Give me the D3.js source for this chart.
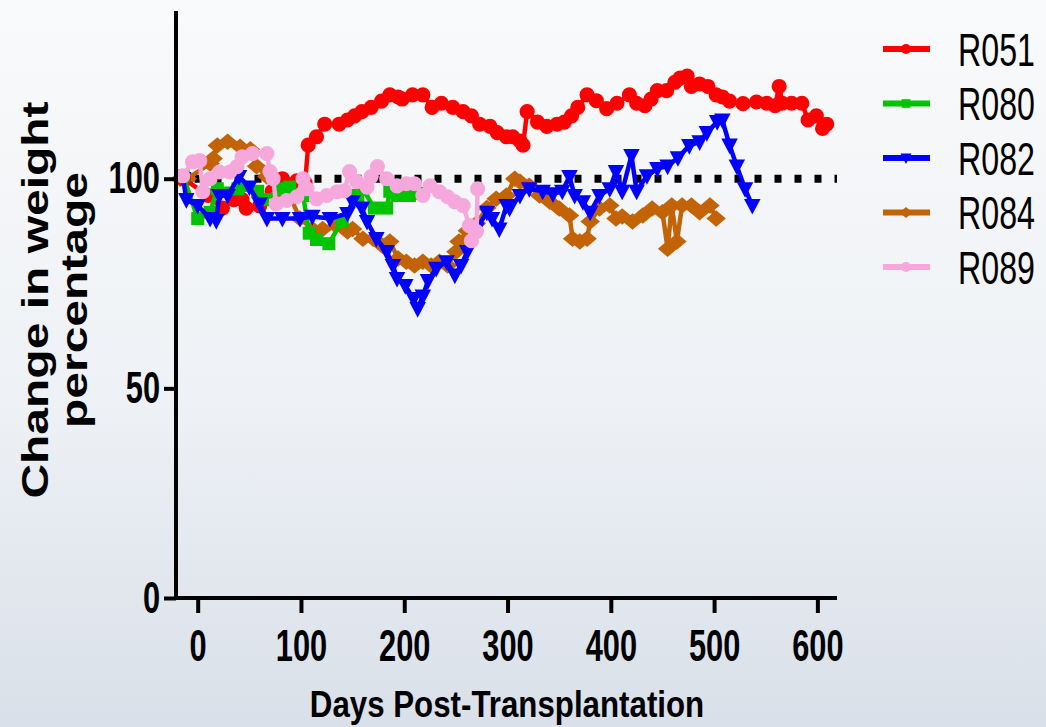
<!DOCTYPE html>
<html>
<head>
<meta charset="utf-8">
<script src="https://cdn.jsdelivr.net/npm/d3@7"></script>
<style>
  body { margin: 0; padding: 0; overflow: hidden; }
  text { font-family: "Liberation Sans", Arial, sans-serif; }
</style>
</head>
<body>
<div id="chart"></div>
<script>
// series: [day, % of starting weight]
var r051 = [[-14,100],[10,96],[24,93],[35,95],[43,95],[47,93],[60,93.5],[72,97],[82,100],[96,99.5],[104,99],
  [107,108],[115,110],[123,113],[137,113],[145,114],[152,115],[159,116],[168,117],[178,118.5],[186,120],[194,119.5],
  [198,119],[208,120],[218,120],[227,117],[236,118],[247,117],[257,116],[265,115],[273,113],[283,112.5],[290,111],
  [299,110],[305,110],[312,109],[315,108],[319,116],[329,113.5],[338,112.5],[348,113],[355,113.5],[362,115],[368,117],
  [377,120],[386,118.6],[396,116.7],[406,118],[418,120],[425,118],[433,117.4],[439,119],[445,121],[454,121],[462,123],
  [467,124],[474,124.5],[478,122],[486,122.6],[494,122],[502,120],[508,119.5],[515,118.5],[528,117.9],[541,118.3],
  [551,118],[559,117.4],[563,122],[566,118],[575,118],[585,118],[591,114],[599,115],[605,112],[609,113]];

var r080 = [[-14,100.7],[0,90.5],[12,92],[19,97.6],[39,97.6],[58,97],[63,95],[82,97.6],[89,98],[102,96],[108,87],
  [115,85.5],[127,84.5],[140,90],[155,96],[160,97.5],[171,93],[183,93],[186,97],[193,96],[205,96],[212,96.5]];

var r082 = [[-14,100],[-11,95],[0,93.6],[12,90.5],[18,90],[21,96],[29,96],[40,100.5],[50,98],[60,94],[67,90.5],
  [82,90.5],[99,90.5],[111,91],[128,90.5],[145,91.7],[150,94.5],[159,93],[164,89.8],[173,85.7],[183,82.6],[189,79.3],
  [193,76.2],[201,74.5],[209,71.4],[213,69],[218,72],[223,75.7],[231,78.6],[241,80.2],[249,77],[255,79.3],[261,82.6],
  [270,88],[280,92],[285,90.5],[292,88],[299,93.6],[302,93],[312,96],[321,97.6],[334,97],[344,96.4],[353,97],
  [360,100.5],[365,96],[373,94.5],[380,92],[389,96],[399,97.6],[405,101.7],[411,97],[420,105.5],[425,97],
  [435,100.7],[445,102.4],[455,103],[465,105],[476,107.9],[486,108.8],[493,111],[503,113.6],[508,114],[515,108],
  [522,103],[530,97.6],[537,93.6]];

var r084 = [[-17,100],[-10,100],[12,103.6],[15,104.8],[19,107.9],[29,108.8],[41,107.6],[51,107],[57,103],[67,100.5],
  [80,97],[89,96],[99,90.5],[111,88],[121,88],[134,88.8],[145,87.4],[150,88],[160,85.7],[170,85.7],[179,84],[186,85],
  [194,81],[202,80.2],[210,79.3],[218,80.2],[226,79.3],[234,80.2],[242,79.3],[250,82.6],[253,85],[261,87.6],[270,89.3],
  [280,93],[289,95.2],[299,96],[307,100],[312,99.3],[321,98.3],[331,96],[341,94.5],[350,92.9],[360,91.2],[363,85.7],
  [370,85],[377,85.7],[380,89.8],[389,92.9],[399,93.6],[405,90.5],[411,91],[421,89.8],[431,91.2],[440,92.9],[450,92],
  [455,83.3],[459,93.6],[464,85],[469,93.6],[478,93.6],[486,92],[496,93.6],[502,90.5]];

var r089 = [[-14.5,100.7],[-5,104],[2,104.3],[5,96.9],[12,100],[21,101.6],[31,101.6],[38,102.9],[43,105.2],[53,106],
  [67,106],[70,101.7],[73,100],[76,94],[86,94.8],[96,95.7],[102,100],[106,97.6],[115,95.2],[125,96],[135,96.9],
  [142,97.1],[147,101.7],[154,99.3],[164,98],[168,100.5],[174,102.9],[183,100],[193,98.3],[202,98.8],[210,98.8],
  [218,96],[225,98.3],[234,96.9],[242,95.7],[249,94.5],[257,93.6],[263,88.8],[265,85.2],[270,87.4],[271,97.6]];

var seriesNames = ['R051', 'R080', 'R082', 'R084', 'R089'];
var seriesData = [r051, r080, r082, r084, r089];
var seriesColors = ['#ff0000', '#00c400', '#0000ff', '#c26306', '#f6a8dd'];
var seriesShapes = ['circle', 'square', 'triangleDown', 'diamond', 'circle'];
var drawOrder = [3, 0, 1, 2, 4];

var xTicks = [0, 100, 200, 300, 400, 500, 600];
var yTicks = [0, 50, 100];
var baseline = 100;

var width = 1046, height = 727;

var x = d3.scaleLinear().domain([-21, 619]).range([176, 837]);
var y = d3.scaleLinear().domain([0, 140]).range([598, 11]);

var svg = d3.select('#chart').append('svg')
  .attr('width', width)
  .attr('height', height);

var grad = svg.append('defs').append('linearGradient')
  .attr('id', 'bg')
  .attr('x1', 0).attr('y1', 0).attr('x2', 0).attr('y2', 1);
grad.append('stop').attr('offset', '0%').attr('stop-color', '#f9fafb');
grad.append('stop').attr('offset', '55%').attr('stop-color', '#eef1f5');
grad.append('stop').attr('offset', '100%').attr('stop-color', '#d9e0e9');

svg.append('rect')
  .attr('width', width)
  .attr('height', height)
  .attr('fill', 'url(#bg)');

// dotted 100% line
svg.append('line')
  .attr('x1', x(-21)).attr('x2', x(619))
  .attr('y1', y(baseline)).attr('y2', y(baseline))
  .attr('stroke', '#000')
  .attr('stroke-width', 8)
  .attr('stroke-dasharray', '7 13')
  .attr('stroke-dashoffset', 1.5);

function markerPath(shape, s) {
  if (shape === 'circle') return d3.symbol(d3.symbolCircle, s * s * 0.8)();
  if (shape === 'square') return d3.symbol(d3.symbolSquare, s * s * 0.75)();
  if (shape === 'triangleDown') {
    var h = s * 0.55;
    return 'M' + (-h) + ',' + (-h * 0.8) + 'L' + h + ',' + (-h * 0.8) + 'L0,' + (h * 1.1) + 'Z';
  }
  if (shape === 'diamond') {
    var w = s * 0.65, v = s * 0.55;
    return 'M' + (-w) + ',0L0,' + (-v) + 'L' + w + ',0L0,' + v + 'Z';
  }
}

var line = d3.line()
  .x(function(d) { return x(d[0]); })
  .y(function(d) { return y(d[1]); });

drawOrder.forEach(function(i) {
  var g = svg.append('g').attr('class', 'series ' + seriesNames[i]);
  g.append('path')
    .datum(seriesData[i])
    .attr('d', line)
    .attr('fill', 'none')
    .attr('stroke', seriesColors[i])
    .attr('stroke-width', 4.5)
    .attr('stroke-linejoin', 'round');
  g.selectAll('path.mark')
    .data(seriesData[i])
    .enter()
    .append('path')
    .attr('class', 'mark')
    .attr('transform', function(d) { return 'translate(' + x(d[0]) + ',' + y(d[1]) + ')'; })
    .attr('d', markerPath(seriesShapes[i], 15))
    .attr('fill', seriesColors[i]);
});

// axes
var xAxis = d3.axisBottom(x).tickValues(xTicks).tickSize(15).tickSizeOuter(0);
var yAxis = d3.axisLeft(y).tickValues(yTicks).tickSize(12).tickSizeOuter(0);

var gx = svg.append('g')
  .attr('transform', 'translate(0,' + y(0) + ')')
  .call(xAxis);
gx.select('.domain').attr('stroke-width', 4).attr('stroke', '#000')
  .attr('d', 'M' + (x(-21) - 2) + ',0H' + x(619));
gx.selectAll('.tick line').attr('stroke-width', 4).attr('stroke', '#000');
gx.selectAll('.tick text')
  .attr('y', 32)
  .attr('fill', '#000')
  .style('font-size', '44px')
  .style('font-weight', 'bold')
  .attr('transform', 'scale(0.7,1)');

var gy = svg.append('g')
  .attr('transform', 'translate(' + x(-21) + ',0)')
  .call(yAxis);
gy.select('.domain').attr('stroke-width', 4).attr('stroke', '#000')
  .attr('d', 'M0,' + y(140) + 'V' + (y(0) + 2));
gy.selectAll('.tick line').attr('stroke-width', 4).attr('stroke', '#000');
gy.selectAll('.tick text')
  .attr('x', -16 / 0.7)
  .attr('fill', '#000')
  .style('font-size', '44px')
  .style('font-weight', 'bold')
  .attr('transform', 'scale(0.7,1)');

// axis titles
svg.append('text')
  .attr('transform', 'translate(507,717) scale(0.845,1)')
  .attr('text-anchor', 'middle')
  .style('font-size', '37px')
  .style('font-weight', 'bold')
  .text('Days Post-Transplantation');

var yTitle = ['Change in weight', 'percentage'];
var yTitleX = [48, 87];
yTitle.forEach(function(t, i) {
  svg.append('text')
    .attr('transform', 'translate(' + yTitleX[i] + ',300) rotate(-90) scale(1,0.78)')
    .attr('text-anchor', 'middle')
    .style('font-size', '48px')
    .style('font-weight', 'bold')
    .text(t);
});

// legend
var legend = svg.append('g').attr('class', 'legend');
seriesNames.forEach(function(name, i) {
  var cy = 49 + 54.5 * i;
  var row = legend.append('g').attr('transform', 'translate(0,' + cy + ')');
  row.append('line')
    .attr('x1', 883).attr('x2', 930)
    .attr('stroke', seriesColors[i])
    .attr('stroke-width', 6);
  row.append('path')
    .attr('transform', 'translate(906,0)')
    .attr('d', markerPath(seriesShapes[i], 10))
    .attr('fill', seriesColors[i]);
  row.append('text')
    .attr('transform', 'translate(958,0) scale(0.7,1)')
    .attr('dy', '0.36em')
    .style('font-size', '46px')
    .text(name);
});
</script>
</body>
</html>
